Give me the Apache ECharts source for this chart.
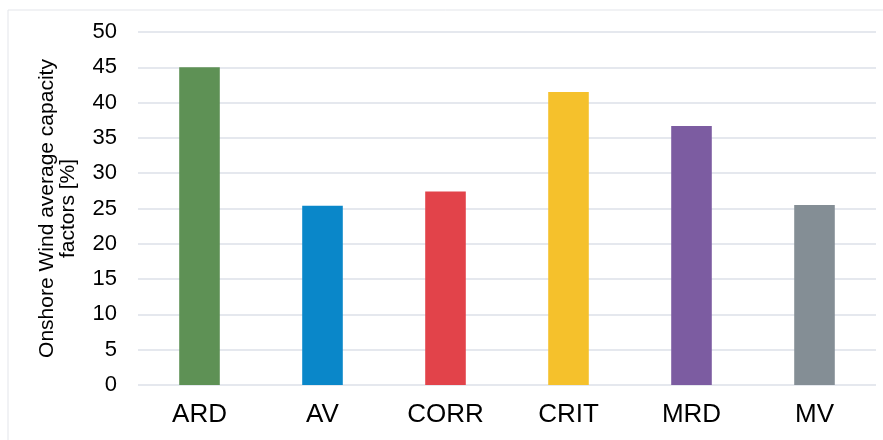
<!DOCTYPE html>
<html>
<head>
<meta charset="utf-8">
<script src="https://cdn.jsdelivr.net/npm/echarts@6/dist/echarts.min.js"></script>
<style>
  html, body { margin: 0; padding: 0; background: #ffffff; }
  #chart { width: 883px; height: 440px; }
</style>
</head>
<body>
<div id="chart"></div>
<script>
// Onshore wind average capacity factors by scenario
const categories = ['ARD', 'AV', 'CORR', 'CRIT', 'MRD', 'MV'];
const capacityFactors = [45.0, 25.4, 27.4, 41.5, 36.7, 25.5];
const barColors = ['#5e9155', '#0a87c9', '#e2434a', '#f5c12c', '#7c5ca1', '#848e95'];
const yTicks = { min: 0, max: 50, interval: 5 };

const chart = echarts.init(document.getElementById('chart'), null, { renderer: 'canvas' });

const fontFamily = '"Liberation Sans", Arial, Helvetica, sans-serif';

chart.setOption({
  animation: false,
  backgroundColor: '#ffffff',
  grid: { left: 138, right: 7, top: 32, bottom: 55 },
  graphic: [
    // thin frame on the top and left edges
    { type: 'line', shape: { x1: 8, y1: 10, x2: 883, y2: 10 }, style: { stroke: '#e3e5ea', lineWidth: 1 } },
    { type: 'line', shape: { x1: 8, y1: 10, x2: 8, y2: 440 }, style: { stroke: '#e3e5ea', lineWidth: 1 } }
  ],
  xAxis: {
    type: 'category',
    data: categories,
    axisLine: { show: false },
    axisTick: { show: false },
    axisLabel: { color: '#000000', fontSize: 26, fontFamily: fontFamily, margin: 17 }
  },
  yAxis: {
    type: 'value',
    min: yTicks.min,
    max: yTicks.max,
    interval: yTicks.interval,
    name: 'Onshore Wind average capacity\nfactors [%]',
    nameLocation: 'middle',
    nameRotate: 90,
    nameGap: 59,
    nameTextStyle: { color: '#000000', fontSize: 21, fontFamily: fontFamily, lineHeight: 21, align: 'center' },
    axisLine: { show: false },
    axisTick: { show: false },
    axisLabel: { color: '#000000', fontSize: 22, fontFamily: fontFamily, margin: 21 },
    splitLine: { lineStyle: { color: '#dde1e8', width: 1.5 } }
  },
  series: [{
    type: 'bar',
    data: capacityFactors.map((v, i) => ({ value: v, itemStyle: { color: barColors[i] } })),
    barWidth: '33%'
  }]
});
</script>
</body>
</html>
